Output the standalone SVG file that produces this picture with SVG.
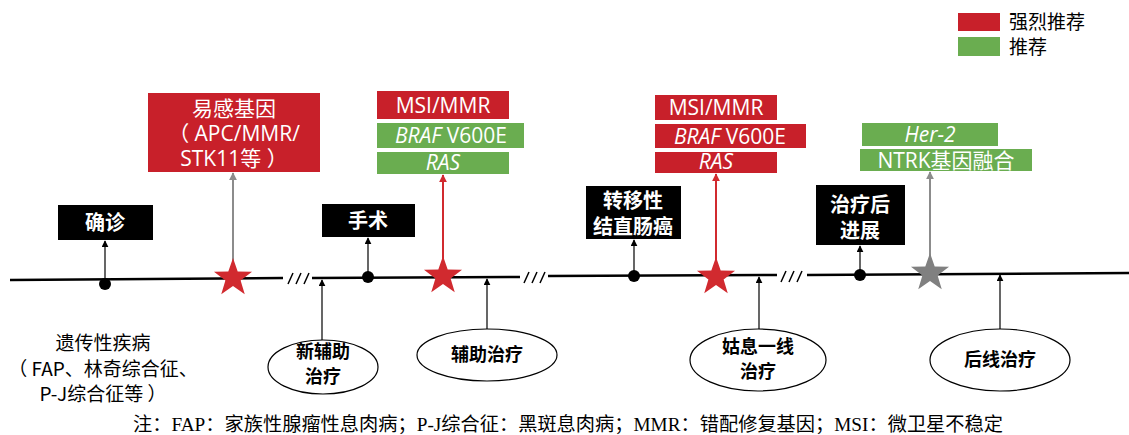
<svg xmlns="http://www.w3.org/2000/svg" width="1129" height="435" viewBox="0 0 1129 435">
<style>
.sans{font-family:"Open Sans","Noto Sans CJK SC",sans-serif}
.cjk{font-family:"Noto Sans CJK SC","Open Sans",sans-serif}
.red{fill:#c8202a}
.green{fill:#6aad50}
.blk{fill:#000}
.wt{fill:#fff;font-size:21px;text-anchor:middle}
.bw{fill:#fff;font-size:20px;font-weight:bold;text-anchor:middle}
.eb{fill:#000;font-size:18px;font-weight:bold;text-anchor:middle}
.tl{stroke:#000;stroke-width:2.5;fill:none}
.sl{stroke:#000;stroke-width:1.5;fill:none}
.ar{stroke:#000;stroke-width:1.2;fill:none;marker-end:url(#ab)}
.ell{fill:#fff;stroke:#000;stroke-width:1.2}
.lt{fill:#000;font-size:19px;text-anchor:middle}
</style>
<defs>
<marker id="ab" viewBox="0 0 10 10" refX="9" refY="5" markerWidth="7" markerHeight="7" markerUnits="userSpaceOnUse" orient="auto"><path d="M0,0 L10,5 L0,10 Z" fill="#000"/></marker>
<marker id="ag" viewBox="0 0 10 10" refX="9" refY="5" markerWidth="8" markerHeight="8" markerUnits="userSpaceOnUse" orient="auto"><path d="M0,0 L10,5 L0,10 Z" fill="#8c8c8c"/></marker>
<marker id="ar" viewBox="0 0 10 10" refX="9" refY="5" markerWidth="8" markerHeight="8" markerUnits="userSpaceOnUse" orient="auto"><path d="M0,0 L10,5 L0,10 Z" fill="#d12a2f"/></marker>
<path id="star" d="M0,-20 L4.70,-6.47 L19.02,-6.18 L7.61,2.47 L11.76,16.18 L0,8 L-11.76,16.18 L-7.61,2.47 L-19.02,-6.18 L-4.70,-6.47 Z"/>
</defs>

<g id="legend">
<rect x="958" y="13" width="42" height="18" class="red"/>
<rect x="958" y="37" width="42" height="19" class="green"/>
<text x="1009" y="29" class="cjk" font-size="19" fill="#000">强烈推荐</text>
<text x="1009" y="54" class="cjk" font-size="19" fill="#000">推荐</text>
</g>

<g id="connectors">
<path class="tl" d="M10,280 L283,278"/>
<path class="sl" d="M288,284 L293,273 M296,284 L301,273 M304,284 L309,273"/>
<path class="tl" d="M312,278 L520,277"/>
<path class="sl" d="M524,283 L529,272 M532,283 L537,272 M540,283 L545,272"/>
<path class="tl" d="M548,276 L777,275"/>
<path class="sl" d="M781,282 L786,271 M789,282 L794,271 M797,282 L802,271"/>
<path class="tl" d="M807,275 L1129,273"/>
<line class="ar" x1="105" y1="283" x2="105" y2="241"/>
<line class="ar" x1="368" y1="276" x2="368" y2="238"/>
<line class="ar" x1="634" y1="275" x2="634" y2="240"/>
<line class="ar" x1="860" y1="274" x2="860" y2="246"/>
<line class="ar" x1="322" y1="340" x2="322" y2="280"/>
<line class="ar" x1="487" y1="330" x2="487" y2="279"/>
<line class="ar" x1="759" y1="329" x2="759" y2="277"/>
<line class="ar" x1="1000" y1="330" x2="1000" y2="275"/>
<line x1="233" y1="262" x2="233" y2="173" stroke="#8c8c8c" stroke-width="2" marker-end="url(#ag)"/>
<line x1="443" y1="260" x2="443" y2="175" stroke="#d12a2f" stroke-width="2" marker-end="url(#ar)"/>
<line x1="716" y1="262" x2="716" y2="174" stroke="#d12a2f" stroke-width="2" marker-end="url(#ar)"/>
<line x1="930" y1="258" x2="930" y2="172" stroke="#8c8c8c" stroke-width="2" marker-end="url(#ag)"/>
</g>

<g id="dots">
<circle cx="105" cy="284" r="6"/>
<circle cx="368" cy="277" r="6"/>
<circle cx="634" cy="276" r="6"/>
<circle cx="860" cy="275" r="6"/>
</g>

<g id="stars">
<use href="#star" x="233" y="278" fill="#d12a2f"/>
<use href="#star" x="443" y="276" fill="#d12a2f"/>
<use href="#star" x="716" y="277" fill="#d12a2f"/>
<use href="#star" x="930" y="273" fill="#808080"/>
</g>

<g id="node-yigan">
<rect x="148" y="93" width="172" height="79" class="red"/>
<text x="234" y="116" class="wt cjk">易感基因</text>
<text x="234" y="141" class="wt sans">（ APC/MMR/</text>
<text x="234" y="166" class="wt sans">STK11等 ）</text>
</g>

<g id="node-markers1">
<rect x="377" y="91" width="132" height="28" class="red"/>
<text x="443" y="113" class="wt sans">MSI/MMR</text>
<rect x="377" y="123" width="147" height="25" class="green"/>
<text x="451" y="143" class="wt sans"><tspan font-style="italic">BRAF</tspan> V600E</text>
<rect x="377" y="152" width="132" height="22" class="green"/>
<text x="443" y="170" class="wt sans" font-style="italic">RAS</text>
</g>

<g id="node-markers2">
<rect x="655" y="95" width="122" height="25" class="red"/>
<text x="716" y="115" class="wt sans">MSI/MMR</text>
<rect x="655" y="124" width="151" height="24" class="red"/>
<text x="730" y="144" class="wt sans"><tspan font-style="italic">BRAF</tspan> V600E</text>
<rect x="655" y="152" width="122" height="21" class="red"/>
<text x="716" y="169" class="wt sans" font-style="italic">RAS</text>
</g>

<g id="node-markers3">
<rect x="862" y="123" width="136" height="23" class="green"/>
<text x="930" y="142" class="wt sans" font-style="italic">Her-2</text>
<rect x="860" y="149" width="172" height="22" class="green"/>
<text x="946" y="168" class="wt sans">NTRK基因融合</text>
</g>

<g id="node-quezhen">
<rect x="58" y="205" width="95" height="35" class="blk"/>
<text x="105" y="230" class="bw cjk">确诊</text>
</g>
<g id="node-shoushu">
<rect x="322" y="204" width="93" height="33" class="blk"/>
<text x="368" y="228" class="bw cjk">手术</text>
</g>
<g id="node-zhuanyi">
<rect x="586" y="186" width="95" height="53" class="blk"/>
<text x="633" y="208" class="bw cjk">转移性</text>
<text x="633" y="234" class="bw cjk">结直肠癌</text>
</g>
<g id="node-jinzhan">
<rect x="816" y="185" width="89" height="60" class="blk"/>
<text x="860" y="212" class="bw cjk">治疗后</text>
<text x="860" y="238" class="bw cjk">进展</text>
</g>

<g id="node-xinfuzhu">
<ellipse cx="323" cy="367" rx="55" ry="27" class="ell"/>
<text x="323" y="358" class="eb cjk">新辅助</text>
<text x="323" y="383" class="eb cjk">治疗</text>
</g>
<g id="node-fuzhu">
<ellipse cx="487" cy="355" rx="70" ry="26" class="ell"/>
<text x="487" y="361" class="eb cjk">辅助治疗</text>
</g>
<g id="node-guxi">
<ellipse cx="758" cy="360" rx="68" ry="31" class="ell"/>
<text x="758" y="353" class="eb cjk">姑息一线</text>
<text x="758" y="378" class="eb cjk">治疗</text>
</g>
<g id="node-houxian">
<ellipse cx="1000" cy="360" rx="70" ry="31" class="ell"/>
<text x="1000" y="366" class="eb cjk">后线治疗</text>
</g>

<g id="node-yichuan">
<text x="103" y="350" class="lt cjk">遗传性疾病</text>
<text x="103" y="376" class="lt cjk">（ FAP、林奇综合征、</text>
<text x="103" y="401" class="lt cjk">P-J综合征等 ）</text>
</g>

<g id="footnote">
<text x="133" y="431" font-family="'Liberation Serif','Noto Sans CJK SC',serif" font-size="19" fill="#000" textLength="870" lengthAdjust="spacingAndGlyphs">注：FAP：家族性腺瘤性息肉病；P-J综合征：黑斑息肉病；MMR：错配修复基因；MSI：微卫星不稳定</text>
</g>
</svg>
